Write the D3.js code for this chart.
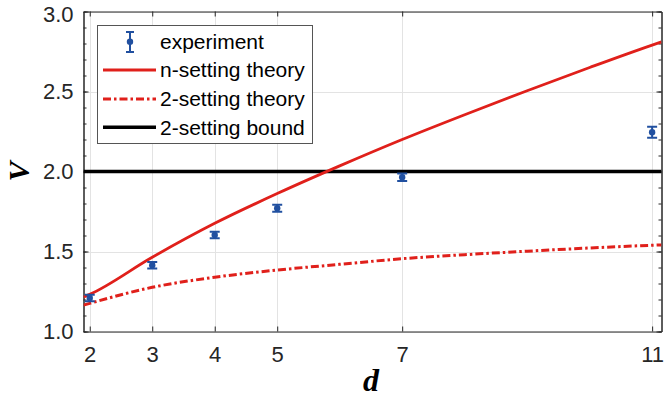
<!DOCTYPE html>
<html>
<head>
<meta charset="utf-8">
<script src="https://cdn.jsdelivr.net/npm/d3@7"></script>
<style>
  html, body { margin: 0; padding: 0; background: #fff; }
  svg { display: block; }
</style>
</head>
<body>
<svg id="chart" width="665" height="398"></svg>
<script>
// ---- data ----
const xTicks = [2, 3, 4, 5, 7, 11];
const yTicks = [1.0, 1.5, 2.0, 2.5, 3.0];
const expD = [2, 3, 4, 5, 7, 11];
const expV = [1.209, 1.414, 1.603, 1.770, 1.964, 2.245];
const expErr = [0.020, 0.020, 0.020, 0.022, 0.023, 0.034];
const theoryD = [1.9, 2, 3, 4, 5, 6, 7, 8, 9, 10, 11, 11.15];
const nSettingV = [1.215, 1.232, 1.464, 1.676, 1.862, 2.035, 2.200, 2.355, 2.505, 2.650, 2.790, 2.810];
const twoSettingV = [1.165, 1.176, 1.276, 1.339, 1.384, 1.420, 1.455, 1.480, 1.502, 1.522, 1.539, 1.541];
const boundV = 2.0;
const legendLabels = ["experiment", "n-setting theory", "2-setting theory", "2-setting bound"];

// ---- layout ----
const svg = d3.select("#chart");
const L = 83.5, R = 661.5, T = 11.5, B = 331.5;
const x = d3.scaleLinear().domain([1.9, 11.15]).range([L, R]);
const y = d3.scaleLinear().domain([1.0, 3.0]).range([B, T]);
const axisColor = "#262626";
const red = "#e0201b";
const blue = "#2150a0";

// grid
const grid = svg.append("g");
grid.selectAll(".gx").data(xTicks).join("line")
  .attr("x1", d => Math.round(x(d)) + 0.5).attr("x2", d => Math.round(x(d)) + 0.5)
  .attr("y1", T).attr("y2", B).attr("stroke", "#e3e3e3").attr("stroke-width", 1);
grid.selectAll(".gy").data(yTicks).join("line")
  .attr("y1", d => Math.round(y(d)) + 0.5).attr("y2", d => Math.round(y(d)) + 0.5)
  .attr("x1", L).attr("x2", R).attr("stroke", "#e3e3e3").attr("stroke-width", 1);

// axes with inner ticks (MATLAB style)
const yMinor = d3.range(10, 31).map(v => v / 10);
const axBottom = d3.axisBottom(x).tickValues(xTicks).tickFormat(d3.format("d")).tickSizeInner(-5).tickSizeOuter(0).tickPadding(15);
const axTop = d3.axisTop(x).tickValues(xTicks).tickFormat("").tickSizeInner(-5).tickSizeOuter(0);
const axLeft = d3.axisLeft(y).tickValues(yTicks).tickFormat(d3.format(".1f")).tickSizeInner(-5).tickSizeOuter(0).tickPadding(10);
const axRight = d3.axisRight(y).tickValues(yTicks).tickFormat("").tickSizeInner(-5).tickSizeOuter(0);
const axLeftMinor = d3.axisLeft(y).tickValues(yMinor).tickFormat("").tickSizeInner(-3).tickSizeOuter(0);
const axRightMinor = d3.axisRight(y).tickValues(yMinor).tickFormat("").tickSizeInner(-3).tickSizeOuter(0);

function style(g) {
  g.select(".domain").attr("stroke", axisColor);
  g.selectAll(".tick line").attr("stroke", axisColor);
  g.selectAll("text").attr("fill", axisColor)
    .style("font-family", "Arial, 'Liberation Sans', sans-serif").style("font-size", "22px");
}
svg.append("g").attr("transform", `translate(0,${B})`).call(axBottom).call(style);
svg.append("g").attr("transform", `translate(0,${T})`).call(axTop).call(style);
svg.append("g").attr("transform", `translate(${L},0)`).call(axLeftMinor).call(style);
svg.append("g").attr("transform", `translate(${R},0)`).call(axRightMinor).call(style);
const leftAxis = svg.append("g").attr("transform", `translate(${L},0)`).call(axLeft).call(style);
svg.append("g").attr("transform", `translate(${R},0)`).call(axRight).call(style);
// keep the top label inside the canvas
leftAxis.selectAll(".tick text").filter(d => d === 3.0).attr("dy", "0.45em");

// plot clip
svg.append("clipPath").attr("id", "clip").append("rect")
  .attr("x", L).attr("y", T).attr("width", R - L).attr("height", B - T);
const plot = svg.append("g").attr("clip-path", "url(#clip)");

const line = d3.line().curve(d3.curveMonotoneX);

// bound
plot.append("line")
  .attr("x1", L).attr("x2", R).attr("y1", y(boundV)).attr("y2", y(boundV))
  .attr("stroke", "#000").attr("stroke-width", 3.5);

// 2-setting theory
plot.append("path")
  .attr("d", line(theoryD.map((d, i) => [x(d), y(twoSettingV[i])])))
  .attr("fill", "none").attr("stroke", red).attr("stroke-width", 3)
  .attr("stroke-dasharray", "8,3,2.5,3");

// n-setting theory
plot.append("path")
  .attr("d", line(theoryD.map((d, i) => [x(d), y(nSettingV[i])])))
  .attr("fill", "none").attr("stroke", red).attr("stroke-width", 2.8);

// experiment error bars
const eb = plot.append("g").attr("stroke", blue).attr("stroke-width", 2).attr("fill", blue);
expD.forEach((d, i) => {
  const cx = x(d), y1 = y(expV[i] - expErr[i]), y2 = y(expV[i] + expErr[i]);
  eb.append("line").attr("x1", cx).attr("x2", cx).attr("y1", y1).attr("y2", y2);
  eb.append("line").attr("x1", cx - 5).attr("x2", cx + 5).attr("y1", y1).attr("y2", y1);
  eb.append("line").attr("x1", cx - 5).attr("x2", cx + 5).attr("y1", y2).attr("y2", y2);
  eb.append("circle").attr("cx", cx).attr("cy", y(expV[i])).attr("r", 3.2).attr("stroke", "none");
});

// axis labels
svg.append("text")
  .attr("transform", `translate(29,${y(2.0)}) rotate(-90)`)
  .attr("text-anchor", "middle")
  .style("font-family", "'Liberation Serif', 'Times New Roman', serif")
  .style("font-style", "italic").style("font-weight", "bold").style("font-size", "30px")
  .text("V");
svg.append("text")
  .attr("x", x(6.5)).attr("y", 391)
  .attr("text-anchor", "middle")
  .style("font-family", "'Liberation Serif', 'Times New Roman', serif")
  .style("font-style", "italic").style("font-weight", "bold").style("font-size", "32px")
  .text("d");

// legend
const lg = svg.append("g");
lg.append("rect").attr("x", 97.5).attr("y", 25.5).attr("width", 215).attr("height", 118)
  .attr("fill", "#fff").attr("stroke", "#555").attr("stroke-width", 1);
const rowY = [41.7, 70, 99, 127.3];
const lx1 = 103, lx2 = 156, tx = 160;
// experiment sample
const le = lg.append("g").attr("stroke", blue).attr("stroke-width", 2).attr("fill", blue);
le.append("line").attr("x1", 130).attr("x2", 130).attr("y1", 32).attr("y2", 52);
le.append("line").attr("x1", 126).attr("x2", 134).attr("y1", 32).attr("y2", 32);
le.append("line").attr("x1", 126).attr("x2", 134).attr("y1", 52).attr("y2", 52);
le.append("circle").attr("cx", 130).attr("cy", 41.7).attr("r", 3.2).attr("stroke", "none");
lg.append("line").attr("x1", lx1).attr("x2", lx2).attr("y1", rowY[1]).attr("y2", rowY[1])
  .attr("stroke", red).attr("stroke-width", 2.8);
lg.append("line").attr("x1", lx1).attr("x2", lx2).attr("y1", rowY[2]).attr("y2", rowY[2])
  .attr("stroke", red).attr("stroke-width", 3).attr("stroke-dasharray", "8,3,2.5,3");
lg.append("line").attr("x1", lx1).attr("x2", lx2).attr("y1", rowY[3]).attr("y2", rowY[3])
  .attr("stroke", "#000").attr("stroke-width", 3.5);
lg.selectAll("text.lab").data(legendLabels).join("text")
  .attr("x", tx).attr("y", (d, i) => rowY[i]).attr("dy", "0.35em")
  .attr("fill", "#000")
  .style("font-family", "Arial, 'Liberation Sans', sans-serif").style("font-size", "21px")
  .text(d => d);
</script>
</body>
</html>
